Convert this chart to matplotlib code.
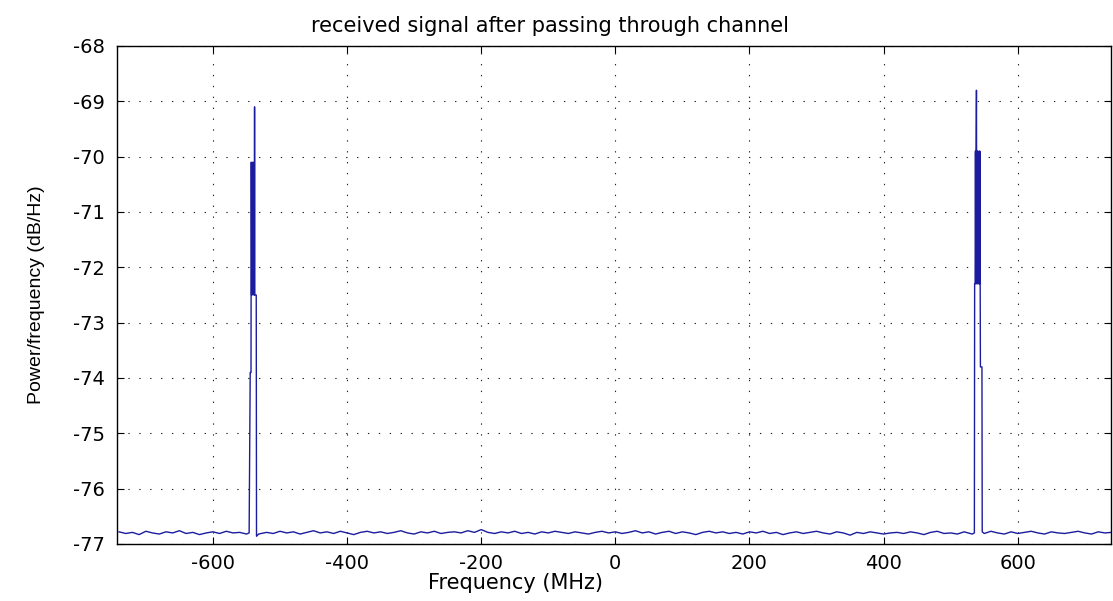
import numpy as np
import matplotlib
matplotlib.use("Agg")
import matplotlib.pyplot as plt

# noise floor, read every 10 MHz from -740 to 740
noise_freq = np.arange(-740, 741, 10)
noise_db = [
    -76.78, -76.81, -76.79, -76.83, -76.77, -76.80, -76.82, -76.78, -76.80, -76.76,
    -76.81, -76.79, -76.83, -76.80, -76.78, -76.81, -76.77, -76.80, -76.79, -76.82,
    -76.80, -76.84, -76.79, -76.81, -76.77, -76.80, -76.78, -76.82, -76.79, -76.76,
    -76.80, -76.78, -76.81, -76.77, -76.80, -76.83, -76.79, -76.77, -76.80, -76.78,
    -76.81, -76.79, -76.76, -76.80, -76.82, -76.78, -76.80, -76.77, -76.81, -76.79,
    -76.78, -76.80, -76.76, -76.79, -76.74, -76.79, -76.81, -76.78, -76.80, -76.77,
    -76.81, -76.79, -76.82, -76.78, -76.80, -76.77, -76.79, -76.81, -76.78, -76.80,
    -76.82, -76.79, -76.77, -76.80, -76.78, -76.81, -76.79, -76.76, -76.80, -76.78,
    -76.82, -76.79, -76.77, -76.81, -76.78, -76.80, -76.83, -76.79, -76.77, -76.80,
    -76.78, -76.81, -76.79, -76.82, -76.78, -76.80, -76.77, -76.81, -76.79, -76.83,
    -76.80, -76.78, -76.81, -76.79, -76.77, -76.80, -76.82, -76.78, -76.80, -76.84,
    -76.79, -76.81, -76.78, -76.80, -76.82, -76.80, -76.79, -76.81, -76.78, -76.80,
    -76.83, -76.79, -76.77, -76.81, -76.80, -76.82, -76.78, -76.80, -76.79, -76.81,
    -76.77, -76.80, -76.82, -76.78, -76.81, -76.79, -76.77, -76.80, -76.82, -76.78,
    -76.80, -76.81, -76.79, -76.77, -76.80, -76.82, -76.78, -76.80, -76.79,
]

# carrier near -540 MHz
left_f = [-546.0, -544.4, -543.2, -542.8, -542.3, -541.8, -541.3, -540.8, -540.3,
          -539.8, -539.3, -538.8, -538.3, -537.9, -537.5, -535.4, -535.0, -531.8]
left_db = [-76.80, -73.90, -73.90, -70.10, -72.50, -70.15, -72.45, -70.10, -72.50,
           -70.12, -72.48, -70.10, -72.50, -69.10, -72.50, -72.50, -76.86, -76.82]

# carrier near +540 MHz
right_f = [532.0, 535.3, 535.7, 536.4, 536.9, 537.4, 537.9, 538.4, 538.9, 539.4, 539.9,
           540.4, 540.9, 541.4, 541.9, 542.4, 542.9, 543.4, 543.9, 544.3, 546.6, 547.0]
right_db = [-76.82, -76.80, -72.30, -72.30, -69.90, -72.28, -69.92, -68.80, -72.30, -69.90,
            -72.28, -69.90, -72.30, -69.92, -72.28, -69.90, -72.30, -69.90, -72.30, -73.80,
            -73.80, -76.78]

noise_db = np.array(noise_db)
keep = ~(((noise_freq > -548) & (noise_freq < -529)) | ((noise_freq > 529) & (noise_freq < 549)))
freq = np.concatenate([noise_freq[keep], left_f, right_f])
psd = np.concatenate([noise_db[keep], left_db, right_db])
order = np.argsort(freq)
freq, psd = freq[order], psd[order]

plt.rcParams['font.family'] = ['DejaVu Sans']
plt.rcParams['axes.unicode_minus'] = False

fig = plt.figure(figsize=(11.13, 6.01), dpi=100)
ax = fig.add_axes([117 / 1113, 1 - 544 / 601, 994 / 1113, 498 / 601])

ax.plot(freq, psd, '-', color='#1c1c9e', linewidth=1.0)

ax.set_xlim(-743, 739)
ax.set_ylim(-77, -68)
ax.set_xticks([-600, -400, -200, 0, 200, 400, 600])
ax.set_yticks(np.arange(-77, -67, 1))

ax.grid(True, color='#222222', linestyle=(0, (1.2, 8.6)), linewidth=0.8)
ax.tick_params(direction='in', top=True, right=True, length=5, width=0.8,
               labelsize=14, colors='black')
ax.tick_params(axis='x', pad=7)
ax.tick_params(axis='y', pad=9)
for s in ax.spines.values():
    s.set_linewidth(1.0)
    s.set_color('black')

ax.set_title("received signal after passing through channel", fontsize=15,
             x=(550 - 117) / 994, pad=10)
ax.set_xlabel("Frequency (MHz)", fontsize=15)
ax.xaxis.set_label_coords((515 - 117) / 994, -0.058)
ax.set_ylabel("Power/frequency (dB/Hz)", fontsize=14, family=['Liberation Sans'])
ax.yaxis.set_label_coords(-0.072, 0.5)

fig.savefig("out.png", dpi=100)
